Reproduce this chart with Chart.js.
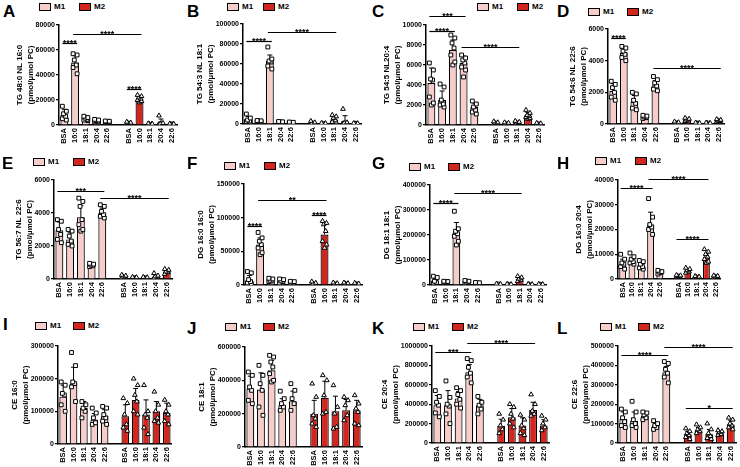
<!DOCTYPE html>
<html>
<head>
<meta charset="utf-8">
<script src="https://cdn.jsdelivr.net/npm/chart.js@4.4.1/dist/chart.umd.min.js"></script>
<style>
  body { margin: 0; background: #fff; width: 740px; height: 467px; position: relative; overflow: hidden;
         font-family: 'Liberation Sans', Arial, sans-serif; }
  canvas { position: absolute; }
  .lt { position: absolute; font-weight: bold; font-size: 17px; line-height: 1; }
  .lg { position: absolute; display: flex; align-items: center; font-weight: bold; font-size: 8px; line-height: 1; }
  .bx { width: 10px; height: 6px; border: 1.5px solid #000; margin-right: 3px; }
</style>
</head>
<body>
<script>
// categories: 5 M1 bars, an empty slot, 5 M2 bars
const cats = ['BSA', '16:0', '18:1', '20:4', '22:6', '', 'BSA', '16:0', '18:1', '20:4', '22:6'];
const unitLine = '(pmol/µmol PC)';

// ---- A ----
const titleA = ['TG 48:0 NL 16:0', unitLine];
const ticksA = [0, 20000, 40000, 60000, 80000];
const meanA  = [8500, 50000, 5000, 3300, 2600, 1400, 20500, 700, 2000, 700];
const sdA    = [4000, 5500, 1300, 900, 500, 600, 2000, 300, 2800, 300];
const ptsA = [
  [15000, 11000, 9000, 7000, 5000, 4000], [57000, 56000, 52000, 48000, 46000, 41000],
  [7000, 6000, 5500, 4500, 4000, 3500], [4500, 4000, 3500, 3000, 2500, 2200], [3200, 3000, 2700, 2400, 2200, 2000],
  [2500, 1800, 1500, 1200, 1000, 600], [24000, 23000, 22000, 21000, 20000, 19000, 18000],
  [1200, 900, 700, 600, 500, 400], [7500, 1500, 1000, 800, 600, 500], [1100, 900, 700, 600, 500, 400]
];
const sigA = [[0, 1, 65800, '****'], [1, 6, 72500, '****'], [5, 6, 28500, '****']];

// ---- B ----
const titleB = ['TG 54:3 NL 18:1', unitLine];
const ticksB = [0, 20000, 40000, 60000, 80000, 100000];
const meanB  = [4500, 2800, 63000, 2000, 1500, 1000, 500, 4500, 2800, 500];
const sdB    = [3000, 600, 6000, 400, 300, 800, 300, 2500, 5500, 200];
const ptsB = [
  [10000, 6000, 4000, 3000, 2500, 2000], [3500, 3200, 3000, 2600, 2400, 2000],
  [77000, 65000, 63000, 62000, 58000, 55000], [2500, 2200, 2000, 1800, 1600], [2000, 1700, 1500, 1300, 1000],
  [3000, 1500, 1000, 500, 300], [1000, 700, 500, 300, 200],
  [9000, 7500, 6000, 3500, 2000, 1500], [15000, 1500, 1000, 800, 500], [800, 600, 500, 400, 300]
];
const sigB = [[0, 2, 83000, '****'], [2, 7, 92000, '****']];

// ---- C ----
const titleC = ['TG 54:5 NL20:4', unitLine];
const ticksC = [0, 2000, 4000, 6000, 8000, 10000];
const meanC  = [4200, 2500, 7500, 6200, 1800, 200, 150, 250, 950, 100];
const sdC    = [1500, 900, 1000, 700, 400, 100, 80, 100, 300, 50];
const ptsC = [
  [6200, 5500, 4600, 4500, 2800, 2200, 2000], [4100, 3800, 2500, 2100, 2000, 1800],
  [9000, 8700, 8200, 7700, 7000, 6300, 6000], [7000, 6700, 6500, 6200, 5800, 5500, 4800], [2400, 2100, 1800, 1500, 1300, 1100],
  [350, 250, 200, 150, 100], [250, 200, 150, 100, 80],
  [400, 300, 250, 200, 150], [1500, 1200, 1000, 900, 800, 700, 600], [200, 150, 100, 80, 50]
];
const sigC = [[0, 2, 9430, '****'], [0, 3, 10940, '***'], [3, 7, 7830, '****']];

// ---- D ----
const titleD = ['TG 54:6 NL 22:6', unitLine];
const ticksD = [0, 2000, 4000, 6000];
const meanD  = [2100, 4500, 1400, 450, 2450, 80, 250, 50, 50, 200];
const sdD    = [450, 300, 400, 80, 300, 40, 80, 20, 20, 60];
const ptsD = [
  [2700, 2500, 2300, 2000, 1700, 1500], [4900, 4800, 4600, 4400, 4200, 4000],
  [2000, 1900, 1500, 1300, 1000, 900], [550, 500, 450, 400, 350], [3000, 2800, 2600, 2400, 2200, 2100],
  [150, 100, 80, 50, 30], [380, 320, 280, 220, 180],
  [80, 60, 50, 40, 30], [80, 60, 50, 40, 30], [300, 260, 220, 180, 150]
];
const sigD = [[0, 1, 5430, '****'], [4, 9, 3540, '****']];

// ---- E ----
const titleE = ['TG 56:7 NL 22:6', unitLine];
const ticksE = [0, 2000, 4000, 6000];
const meanE  = [2950, 2400, 3750, 850, 4000, 150, 80, 80, 150, 450];
const sdE    = [500, 400, 700, 100, 300, 60, 30, 30, 80, 100];
const ptsE = [
  [3600, 3500, 3000, 2700, 2400, 2200], [3000, 2900, 2600, 2300, 2100, 2000],
  [4900, 4700, 4400, 3600, 3300, 3000, 2900], [950, 900, 850, 800, 750], [4500, 4400, 4100, 3900, 3800, 3700],
  [250, 200, 150, 100, 80], [120, 100, 80, 60, 50],
  [120, 100, 80, 60, 50], [350, 200, 150, 100, 50], [600, 550, 450, 400, 300]
];
const sigE = [[0, 4, 5340, '***'], [4, 9, 4930, '****']];

// ---- F ----
const titleF = ['DG 16:0 16:0', unitLine];
const ticksF = [0, 50000, 100000, 150000];
const meanF  = [7000, 60000, 7000, 6000, 4000, 2000, 75000, 2000, 2000, 1500];
const sdF    = [7000, 10000, 2000, 2000, 1000, 1500, 18000, 800, 800, 600];
const ptsF = [
  [20000, 18000, 8000, 5000, 3000, 2000], [78000, 70000, 65000, 60000, 55000, 48000, 45000],
  [10000, 9000, 7000, 6000, 5000], [9000, 8000, 6000, 5000, 3000], [5500, 5000, 4000, 3000, 2500],
  [5000, 3000, 2000, 1000, 500], [95000, 92000, 90000, 80000, 65000, 60000, 55000],
  [3500, 2500, 2000, 1500, 1000], [3500, 2500, 2000, 1500, 1000], [3000, 2000, 1500, 1000, 500]
];
const sigF = [[0, 1, 87900, '****'], [1, 6, 125700, '**'], [5, 6, 104300, '****']];

// ---- G ----
const titleG = ['DG 18:1 18:1', unitLine];
const ticksG = [0, 100000, 200000, 300000, 400000];
const meanG  = [15000, 12000, 210000, 12000, 8000, 3000, 2000, 25000, 2000, 2000];
const sdG    = [10000, 3000, 40000, 4000, 2000, 1500, 1000, 8000, 1000, 1000];
const ptsG = [
  [35000, 30000, 15000, 10000, 8000], [15000, 14000, 12000, 10000, 9000],
  [295000, 225000, 215000, 205000, 195000, 175000, 160000], [18000, 15000, 12000, 10000, 8000], [10000, 9000, 8000, 7000, 6000],
  [5000, 4000, 3000, 2000, 1000], [4000, 3000, 2000, 1000, 500],
  [35000, 30000, 25000, 20000, 15000], [4000, 3000, 2000, 1000, 500], [4000, 3000, 2000, 1000, 500]
];
const sigG = [[0, 2, 329000, '****'], [2, 7, 369000, '****']];

// ---- H ----
const titleH = ['DG 16:0 20:4', unitLine];
const ticksH = [0, 10000, 20000, 30000, 40000];
const meanH  = [6000, 7500, 5500, 22000, 2800, 1200, 3500, 800, 8800, 1000];
const sdH    = [2000, 1200, 1200, 5000, 600, 300, 600, 200, 1500, 300];
const ptsH = [
  [10000, 8000, 6500, 6000, 5000, 4000], [10500, 9000, 8000, 7000, 6500, 6000],
  [7500, 7000, 6000, 5000, 4500, 4000], [32500, 25000, 22000, 21000, 20000, 18000], [3500, 3000, 2800, 2500, 2000],
  [1600, 1400, 1200, 1000, 800], [4500, 4000, 3500, 3000, 2500],
  [1100, 900, 800, 700, 500], [12000, 11000, 10000, 9000, 8000, 7000, 6500], [1400, 1200, 1000, 800, 600]
];
const sigH = [[0, 3, 36600, '****'], [3, 8, 40400, '****'], [5, 8, 16100, '****']];

// ---- I ----
const titleI = ['CE 16:0', unitLine];
const ticksI = [0, 100000, 200000, 300000];
const meanI  = [145000, 185000, 110000, 75000, 85000, 85000, 135000, 90000, 100000, 95000];
const sdI    = [35000, 50000, 20000, 18000, 20000, 35000, 35000, 45000, 30000, 30000];
const ptsI = [
  [190000, 180000, 155000, 150000, 120000, 100000], [280000, 240000, 190000, 185000, 175000, 130000],
  [130000, 120000, 110000, 100000, 80000], [110000, 95000, 80000, 65000, 60000], [115000, 110000, 90000, 80000, 70000, 60000],
  [140000, 125000, 90000, 60000, 50000, 40000], [200000, 180000, 150000, 130000, 100000, 90000],
  [180000, 100000, 90000, 80000, 50000, 30000], [160000, 120000, 100000, 80000, 70000, 65000], [135000, 120000, 100000, 90000, 70000, 60000]
];
const sigI = [];

// ---- J ----
const titleJ = ['CE 18:1', unitLine];
const ticksJ = [0, 200000, 400000, 600000];
const meanJ  = [350000, 345000, 460000, 250000, 275000, 200000, 295000, 215000, 220000, 220000];
const sdJ    = [75000, 100000, 60000, 40000, 60000, 80000, 100000, 90000, 65000, 60000];
const ptsJ = [
  [450000, 430000, 360000, 340000, 280000, 260000], [490000, 430000, 380000, 340000, 240000, 190000],
  [550000, 540000, 510000, 480000, 440000, 400000, 390000], [335000, 290000, 260000, 240000, 220000], [380000, 340000, 290000, 260000, 220000],
  [380000, 300000, 190000, 170000, 140000, 120000], [430000, 400000, 310000, 210000, 200000],
  [370000, 240000, 200000, 120000, 110000], [300000, 280000, 250000, 190000, 160000], [310000, 260000, 230000, 210000, 140000, 130000]
];
const sigJ = [];

// ---- K ----
const titleK = ['CE 20:4', unitLine];
const ticksK = [0, 200000, 400000, 600000, 800000, 1000000];
const meanK  = [390000, 390000, 460000, 730000, 390000, 175000, 265000, 180000, 340000, 180000];
const sdK    = [100000, 150000, 70000, 80000, 60000, 70000, 90000, 80000, 80000, 60000];
const ptsK = [
  [540000, 480000, 420000, 390000, 310000, 270000], [640000, 470000, 400000, 380000, 300000, 200000],
  [570000, 540000, 500000, 450000, 400000, 360000], [870000, 850000, 780000, 720000, 680000, 620000], [480000, 420000, 390000, 350000, 300000],
  [300000, 240000, 180000, 140000, 100000], [400000, 370000, 300000, 250000, 200000, 160000],
  [290000, 240000, 180000, 150000, 100000, 80000], [500000, 400000, 330000, 300000, 280000], [280000, 240000, 200000, 160000, 130000]
];
const sigK = [[0, 3, 942000, '***'], [3, 8, 1027000, '****']];

// ---- L ----
const titleL = ['CE 22:6', unitLine];
const ticksL = [0, 100000, 200000, 300000, 400000, 500000];
const meanL  = [125000, 115000, 140000, 90000, 365000, 45000, 65000, 45000, 50000, 95000];
const sdL    = [35000, 45000, 15000, 15000, 30000, 15000, 15000, 25000, 10000, 20000];
const ptsL = [
  [175000, 160000, 130000, 110000, 90000, 80000], [215000, 160000, 120000, 100000, 90000, 80000],
  [160000, 155000, 145000, 130000, 120000], [115000, 100000, 90000, 80000, 70000], [420000, 410000, 380000, 360000, 340000, 310000],
  [75000, 60000, 50000, 40000, 30000, 20000], [95000, 80000, 70000, 60000, 50000],
  [100000, 70000, 50000, 35000, 25000, 20000], [65000, 60000, 55000, 45000, 40000], [130000, 120000, 100000, 90000, 80000, 70000]
];
const sigL = [[0, 4, 453000, '****'], [4, 9, 493000, '****'], [5, 9, 180000, '*']];

const PINK = '#f6cdca';
const RED = '#d2261f';
const FONT = "'Liberation Sans', Arial, sans-serif";
const TICK_PX = 7;
const jit = [-2, 2, -0.8, 1.2, -2, 2, 0];

// panel placement: plot area (L,R,T,B), letter, legend
const panels = [
  { key: 'A', title: titleA, ticks: ticksA, mean: meanA, sd: sdA, pts: ptsA, sig: sigA, L: 59,  R: 178, T: 25,  B: 125, lx: 3,   ly: 5,   g1: 39,  g2: 79,  gy: 3 },
  { key: 'B', title: titleB, ticks: ticksB, mean: meanB, sd: sdB, pts: ptsB, sig: sigB, L: 243, R: 362, T: 24,  B: 124, lx: 187, ly: 5,   g1: 227, g2: 263, gy: 3 },
  { key: 'C', title: titleC, ticks: ticksC, mean: meanC, sd: sdC, pts: ptsC, sig: sigC, L: 426, R: 545, T: 25,  B: 125, lx: 372, ly: 5,   g1: 477, g2: 517, gy: 3 },
  { key: 'D', title: titleD, ticks: ticksD, mean: meanD, sd: sdD, pts: ptsD, sig: sigD, L: 608, R: 725, T: 29,  B: 124, lx: 557, ly: 5,   g1: 588, g2: 627, gy: 8 },
  { key: 'E', title: titleE, ticks: ticksE, mean: meanE, sd: sdE, pts: ptsE, sig: sigE, L: 54,  R: 173, T: 180, B: 279, lx: 2,   ly: 157, g1: 33,  g2: 73,  gy: 158 },
  { key: 'F', title: titleF, ticks: ticksF, mean: meanF, sd: sdF, pts: ptsF, sig: sigF, L: 244, R: 363, T: 184, B: 285, lx: 187, ly: 157, g1: 224, g2: 264, gy: 162 },
  { key: 'G', title: titleG, ticks: ticksG, mean: meanG, sd: sdG, pts: ptsG, sig: sigG, L: 430, R: 547, T: 185, B: 285, lx: 372, ly: 157, g1: 409, g2: 448, gy: 163 },
  { key: 'H', title: titleH, ticks: ticksH, mean: meanH, sd: sdH, pts: ptsH, sig: sigH, L: 618, R: 722, T: 180, B: 279, lx: 557, ly: 157, g1: 595, g2: 635, gy: 157 },
  { key: 'I', title: titleI, ticks: ticksI, mean: meanI, sd: sdI, pts: ptsI, sig: sigI, L: 58,  R: 173, T: 346, B: 444, lx: 3,   ly: 318, g1: 35,  g2: 73,  gy: 322 },
  { key: 'J', title: titleJ, ticks: ticksJ, mean: meanJ, sd: sdJ, pts: ptsJ, sig: sigJ, L: 245, R: 363, T: 347, B: 447, lx: 187, ly: 322, g1: 225, g2: 263, gy: 323 },
  { key: 'K', title: titleK, ticks: ticksK, mean: meanK, sd: sdK, pts: ptsK, sig: sigK, L: 432, R: 550, T: 346, B: 443, lx: 372, ly: 322, g1: 413, g2: 452, gy: 323 },
  { key: 'L', title: titleL, ticks: ticksL, mean: meanL, sd: sdL, pts: ptsL, sig: sigL, L: 618, R: 737, T: 346, B: 443, lx: 557, ly: 322, g1: 600, g2: 638, gy: 323 }
];

// put the 10 bar values into the 11 category slots (slot 5 is the gap)
const slot = a => [...a.slice(0, 5), null, ...a.slice(5)];
const idx = i => (i < 5 ? i : i + 1);

function addHtml(p) {
  const lt = document.createElement('div');
  lt.className = 'lt';
  lt.textContent = p.key;
  lt.style.left = p.lx + 'px';
  lt.style.top = (p.ly - 2) + 'px';
  document.body.appendChild(lt);

  [[p.g1, 'M1', PINK], [p.g2, 'M2', RED]].forEach(([x, name, col]) => {
    const lg = document.createElement('div');
    lg.className = 'lg';
    lg.style.left = x + 'px';
    lg.style.top = p.gy + 'px';
    lg.innerHTML = `<span class="bx" style="background:${col}"></span>${name}`;
    document.body.appendChild(lg);
  });
}

function makePanel(p) {
  const LW = 56, TOP = 14, XH = 30, RP = 6;
  const W = p.R - p.L + LW + RP;
  const H = p.B - p.T + TOP + XH;
  const cv = document.createElement('canvas');
  cv.width = W; cv.height = H;
  cv.style.left = (p.L - LW) + 'px';
  cv.style.top = (p.T - TOP) + 'px';
  cv.style.width = W + 'px';
  cv.style.height = H + 'px';
  document.body.appendChild(cv);

  const means = slot(p.mean);
  const sds = slot(p.sd);
  const nRep = Math.max(...p.pts.map(a => a.length));

  const pointSets = [];
  for (let r = 0; r < nRep; r++) {
    pointSets.push({
      type: 'line',
      showLine: false,
      data: slot(p.pts.map(a => (a[r] !== undefined ? a[r] : null))),
      pointStyle: c => (c.dataIndex < 5 ? 'rect' : 'triangle'),
      pointRadius: 2.7,
      pointBackgroundColor: '#fff',
      pointBorderColor: '#000',
      pointBorderWidth: 1,
      order: 1,
      jitter: jit[r % jit.length]
    });
  }

  const deco = {
    id: 'deco',
    afterDatasetsUpdate(chart) {
      chart.data.datasets.forEach((ds, di) => {
        if (ds.jitter === undefined) return;
        chart.getDatasetMeta(di).data.forEach(pt => { pt.x += ds.jitter; });
      });
    },
    afterDatasetDraw(chart, args) {
      if (args.meta.type !== 'bar') return;
      const ctx = chart.ctx, y = chart.scales.y;
      ctx.save();
      ctx.strokeStyle = '#000';
      ctx.lineWidth = 1;
      args.meta.data.forEach((el, i) => {
        if (means[i] === null) return;
        const yt = y.getPixelForValue(means[i] + sds[i]);
        ctx.beginPath();
        ctx.moveTo(el.x, el.y);
        ctx.lineTo(el.x, yt);
        ctx.moveTo(el.x - 2.5, yt);
        ctx.lineTo(el.x + 2.5, yt);
        ctx.stroke();
      });
      ctx.restore();
    },
    afterDraw(chart) {
      const ctx = chart.ctx, xs = chart.scales.x, ys = chart.scales.y, ca = chart.chartArea;
      ctx.save();
      ctx.fillStyle = '#000';
      ctx.strokeStyle = '#000';
      // significance bars
      p.sig.forEach(([a, b, v, txt]) => {
        const x1 = xs.getPixelForValue(idx(a)) - 2;
        const x2 = xs.getPixelForValue(idx(b)) + 2;
        const yy = Math.round(ys.getPixelForValue(v)) + 0.5;
        ctx.lineWidth = 1.2;
        ctx.beginPath();
        ctx.moveTo(x1, yy);
        ctx.lineTo(x2, yy);
        ctx.stroke();
        ctx.font = `bold 9px ${FONT}`;
        ctx.textAlign = 'center';
        ctx.textBaseline = 'alphabetic';
        ctx.fillText(txt, (x1 + x2) / 2, yy + 2.8);
      });
      // y axis title, two rotated lines, placed just left of the widest tick label
      ctx.font = `bold ${TICK_PX}px ${FONT}`;
      const maxW = Math.max(...p.ticks.map(v => ctx.measureText(String(v)).width));
      const x2 = ca.left - 4 - maxW - 5;
      ctx.font = `bold 8px ${FONT}`;
      ctx.textAlign = 'center';
      ctx.textBaseline = 'middle';
      const midY = (ca.top + ca.bottom) / 2;
      p.title.forEach((line, j) => {
        ctx.save();
        ctx.translate(x2 - 11 + j * 11, midY);
        ctx.rotate(-Math.PI / 2);
        ctx.fillText(line, 0, 0);
        ctx.restore();
      });
      ctx.restore();
    }
  };

  new Chart(cv, {
    type: 'bar',
    data: {
      labels: cats,
      datasets: [
        {
          type: 'bar',
          data: means,
          backgroundColor: cats.map((c, i) => (i < 5 ? PINK : RED)),
          borderColor: '#000',
          borderWidth: 1.2,
          barPercentage: 0.74,
          categoryPercentage: 1,
          order: 2
        },
        ...pointSets
      ]
    },
    options: {
      responsive: false,
      animation: false,
      devicePixelRatio: 1,
      layout: { padding: { top: TOP, right: RP, left: 0, bottom: 0 }, autoPadding: false },
      plugins: { legend: { display: false }, tooltip: { enabled: false } },
      scales: {
        x: {
          offset: true,
          grid: { display: false, drawTicks: false },
          border: { display: true, color: '#000', width: 1.5 },
          ticks: {
            autoSkip: false, minRotation: 90, maxRotation: 90, padding: 3, color: '#000',
            font: { family: FONT, size: 7.5, weight: 'bold' }
          },
          afterFit: s => { s.height = XH; }
        },
        y: {
          min: p.ticks[0],
          max: p.ticks[p.ticks.length - 1],
          afterBuildTicks: s => { s.ticks = p.ticks.map(v => ({ value: v })); },
          grid: { drawOnChartArea: false, drawTicks: true, tickLength: 3, color: '#000', lineWidth: 1.2 },
          border: { display: true, color: '#000', width: 1.5 },
          ticks: {
            padding: 1, color: '#000', callback: v => String(v),
            font: { family: FONT, size: TICK_PX, weight: 'bold' }
          },
          afterFit: s => { s.width = LW; }
        }
      }
    },
    plugins: [deco]
  });
}

panels.forEach(p => { addHtml(p); makePanel(p); });
</script>
</body>
</html>
